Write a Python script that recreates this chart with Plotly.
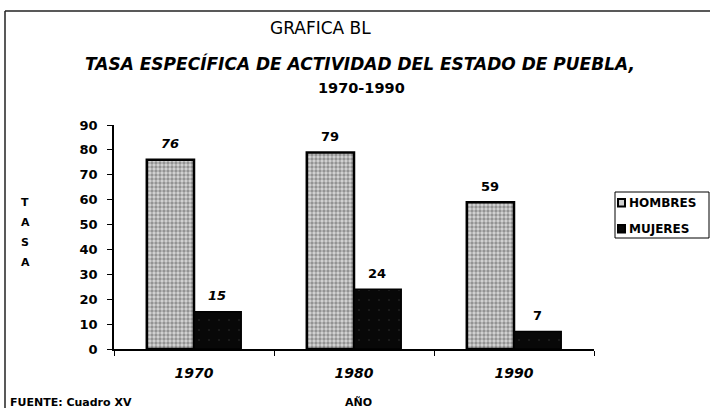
import plotly.graph_objects as go

# Data
years = ["1970", "1980", "1990"]
hombres = [76, 79, 59]
mujeres = [15, 24, 7]
y_ticks = [0, 10, 20, 30, 40, 50, 60, 70, 80, 90]
series_names = ["HOMBRES", "MUJERES"]

W, H = 710, 408
# plot area in pixels
L, R, T, B = 114, 594, 125, 349


def px(x):
    return (x - L) / (R - L)


def py(y):
    return (B - y) / (B - T)


FONT = "DejaVu Sans, Verdana, sans-serif"
HOMBRES_MARKER = dict(
    color="#c8c8c8",
    line=dict(color="black", width=2.5),
    pattern=dict(shape=".", fgcolor="#505050", bgcolor="#d6d6d6",
                 size=4, solidity=0.55),
)
MUJERES_MARKER = dict(
    color="#080808",
    line=dict(color="black", width=1.5),
    pattern=dict(shape=".", fgcolor="#3a3a3a", bgcolor="#080808",
                 size=10, solidity=0.03),
)

fig = go.Figure()
fig.add_trace(go.Bar(x=years, y=hombres, name=series_names[0], marker=HOMBRES_MARKER,
                     showlegend=False))
fig.add_trace(go.Bar(x=years, y=mujeres, name=series_names[1], marker=MUJERES_MARKER,
                     showlegend=False))

annotations = []
# value labels above each bar
for i, yr in enumerate(years):
    style = "italic" if i == 0 else "normal"
    for val, off in ((hombres[i], -0.148), (mujeres[i], 0.145)):
        annotations.append(dict(
            x=i + off, y=val, xref="x", yref="y", text=str(val),
            showarrow=False, yshift=16,
            font=dict(family=FONT, size=13, color="black", weight="bold", style=style),
        ))


def note(x, y, text, size, weight="normal", style="normal", xanchor="center"):
    return dict(x=px(x), y=py(y), xref="paper", yref="paper", text=text,
                showarrow=False, xanchor=xanchor, yanchor="middle",
                font=dict(family=FONT, size=size, color="black",
                          weight=weight, style=style))


annotations += [
    note(320, 28, "GRAFICA BL", 17),
    note(360, 64, "TASA ESPECÍFICA DE ACTIVIDAD DEL ESTADO DE PUEBLA,", 17,
         weight="bold", style="italic"),
    note(361, 88, "1970-1990", 14.5, weight="bold"),
    note(358, 402, "AÑO", 11, weight="bold"),
    note(8, 402, "FUENTE: Cuadro XV", 11, weight="bold", xanchor="left"),
]
# vertical axis title, one letter per line
for k, ch in enumerate("TASA"):
    annotations.append(note(25, 202 + 20 * k, ch, 11, weight="bold"))

# legend entries
legend_rows = [(203, HOMBRES_MARKER), (229, MUJERES_MARKER)]
for name, (yc, mk) in zip(series_names, legend_rows):
    annotations.append(note(627, yc, name, 12, weight="bold", xanchor="left"))

shapes = [
    # page frame (left and top edges)
    dict(type="line", xref="paper", yref="paper", x0=px(5), x1=px(5), y0=py(11), y1=py(408),
         line=dict(color="#222", width=1.5)),
    dict(type="line", xref="paper", yref="paper", x0=px(5), x1=px(710), y0=py(11), y1=py(11),
         line=dict(color="#222", width=1.5)),
    # legend box
    dict(type="rect", xref="paper", yref="paper", x0=px(615), x1=px(709),
         y0=py(192), y1=py(238), line=dict(color="black", width=1), fillcolor="white",
         layer="below"),
]
for yc, mk in legend_rows:
    shapes.append(dict(
        type="rect", xref="paper", yref="paper",
        x0=px(618), x1=px(625), y0=py(yc - 4), y1=py(yc + 3.5),
        line=dict(color="black", width=2),
        fillcolor="#d0d0d0" if mk is HOMBRES_MARKER else "#080808",
    ))

fig.update_layout(
    width=W, height=H,
    margin=dict(l=L, r=W - R, t=T, b=H - B, pad=0),
    paper_bgcolor="white", plot_bgcolor="rgba(0,0,0,0)",
    barmode="group", bargap=0.41, bargroupgap=0,
    font=dict(family=FONT, color="black"),
    showlegend=False,
    annotations=annotations,
    shapes=shapes,
)

fig.update_xaxes(
    type="category", range=[-0.5, 2.5],
    showline=True, linecolor="black", linewidth=1.5,
    ticks="outside", tickson="boundaries", ticklen=5, tickcolor="black",
    showgrid=False, zeroline=False,
    tickfont=dict(family=FONT, size=14, color="black", weight="bold", style="italic"),
    ticklabelstandoff=10,
)
fig.update_yaxes(
    range=[0, 90], tickvals=y_ticks,
    showline=True, linecolor="black", linewidth=1.5,
    ticks="outside", ticklen=5, tickcolor="black",
    showgrid=False, zeroline=False,
    tickfont=dict(family=FONT, size=13, color="black", weight="bold"),
    ticklabelstandoff=7,
)

fig.write_html("out.html")
